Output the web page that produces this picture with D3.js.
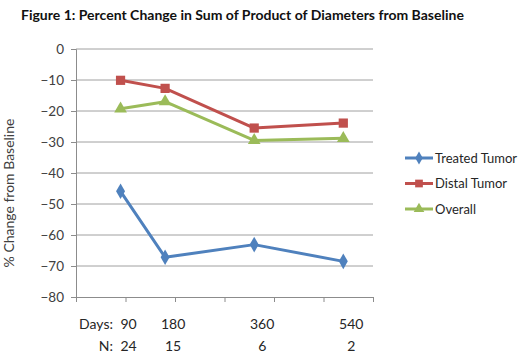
<!DOCTYPE html>
<html>
<head>
<meta charset="utf-8">
<script src="https://cdn.jsdelivr.net/npm/d3@7"></script>
<style>
  body { margin: 0; background: #fff; }
  text { font-family: Lato, "Open Sans", sans-serif; }
</style>
</head>
<body>
<div id="chart"></div>
<script>
// Data
const days = [90, 180, 360, 540];
const nPatients = [24, 15, 6, 2];
const treatedTumor = [-45.9, -67.2, -63.1, -68.5];
const distalTumor = [-10.1, -12.7, -25.5, -23.9];
const overall = [-19.3, -17.0, -29.5, -28.8];
const yTicks = [0, -10, -20, -30, -40, -50, -60, -70, -80];

const series = [
    { name: 'Treated Tumor', values: treatedTumor, color: '#4F81BD', symbol: d3.symbolDiamond, size: 70 },
    { name: 'Distal Tumor', values: distalTumor, color: '#C0504D', symbol: d3.symbolSquare, size: 85 },
    { name: 'Overall', values: overall, color: '#9BBB59', symbol: d3.symbolTriangle, size: 70 }
];

const width = 520;
const height = 355;
const margin = { top: 49, right: 147, bottom: 58, left: 76 };

const svg = d3.select('#chart')
    .append('svg')
    .attr('width', width)
    .attr('height', height);

const x = d3.scaleLinear().domain([0, 600]).range([margin.left, width - margin.right]);
const y = d3.scaleLinear().domain([-80, 0]).range([height - margin.bottom, margin.top]);

// Title
svg.append('text')
    .attr('x', 21)
    .attr('y', 20)
    .style('font-size', '14px')
    .style('font-weight', 'bold')
    .attr('fill', '#111')
    .text('Figure 1: Percent Change in Sum of Product of Diameters from Baseline');

// Gridlines
svg.append('g')
    .selectAll('line')
    .data(yTicks.filter(t => t > -80))
    .enter().append('line')
    .attr('x1', x(0))
    .attr('x2', x(600))
    .attr('y1', d => y(d))
    .attr('y2', d => y(d))
    .attr('stroke', '#a0a0a0')
    .attr('stroke-width', 1);

// Y axis
const yAxis = svg.append('g')
    .attr('transform', `translate(${x(0)},0)`)
    .call(d3.axisLeft(y).tickValues(yTicks).tickSize(5).tickPadding(7).tickFormat(d3.format('d')));
yAxis.select('.domain').attr('stroke', '#8c8c8c');
yAxis.selectAll('.tick line').attr('stroke', '#8c8c8c');
yAxis.selectAll('.tick text')
    .style('font-size', '13.5px')
    .style('font-family', 'Lato, sans-serif')
    .attr('fill', '#404040');

// X axis (no labels)
const xAxis = svg.append('g')
    .attr('transform', `translate(0,${y(-80)})`)
    .call(d3.axisBottom(x).tickValues(d3.range(0, 601, 100)).tickSize(5).tickFormat(''));
xAxis.select('.domain').attr('stroke', '#8c8c8c');
xAxis.selectAll('.tick line').attr('stroke', '#8c8c8c');

// Y axis title
svg.append('text')
    .attr('transform', `translate(14,${(y(0) + y(-80)) / 2 + 20}) rotate(-90)`)
    .attr('text-anchor', 'middle')
    .style('font-size', '14px')
    .attr('fill', '#404040')
    .text('% Change from Baseline');

// Lines and markers
const line = d3.line()
    .x((d, i) => x(days[i]))
    .y(d => y(d));

series.forEach(s => {
    svg.append('path')
        .datum(s.values)
        .attr('d', line)
        .attr('fill', 'none')
        .attr('stroke', s.color)
        .attr('stroke-width', 3)
        .attr('stroke-linejoin', 'round');

    svg.append('g')
        .selectAll('path')
        .data(s.values)
        .enter().append('path')
        .attr('d', d3.symbol().type(s.symbol).size(s.size))
        .attr('transform', (d, i) => `translate(${x(days[i])},${y(d)})`)
        .attr('fill', s.color);
});

// Legend
const legend = svg.selectAll('.legend')
    .data(series)
    .enter().append('g')
    .attr('class', 'legend')
    .attr('transform', (d, i) => `translate(405, ${158 + i * 25.5})`);

legend.append('line')
    .attr('x1', 0)
    .attr('x2', 28)
    .attr('stroke', d => d.color)
    .attr('stroke-width', 3);

legend.append('path')
    .attr('d', d => d3.symbol().type(d.symbol).size(d.size * 0.7)())
    .attr('transform', 'translate(14,0)')
    .attr('fill', d => d.color);

legend.append('text')
    .attr('x', 30)
    .attr('y', 0)
    .attr('dy', '0.35em')
    .style('font-size', '13px')
    .attr('fill', '#262626')
    .text(d => d.name);

// Days / N table below the axis
const rows = [
    { label: 'Days:', values: days, yPos: 324 },
    { label: 'N:', values: nPatients, yPos: 346 }
];

rows.forEach(r => {
    svg.append('text')
        .attr('x', 113)
        .attr('y', r.yPos)
        .attr('dy', '0.35em')
        .attr('text-anchor', 'end')
        .style('font-size', '14px')
        .attr('fill', '#262626')
        .text(r.label);

    svg.append('g')
        .selectAll('text')
        .data(r.values)
        .enter().append('text')
        .attr('x', (d, i) => x(days[i]) + 8)
        .attr('y', r.yPos)
        .attr('dy', '0.35em')
        .attr('text-anchor', 'middle')
        .style('font-size', '14px')
        .attr('fill', '#262626')
        .text(d => d);
});
</script>
</body>
</html>
